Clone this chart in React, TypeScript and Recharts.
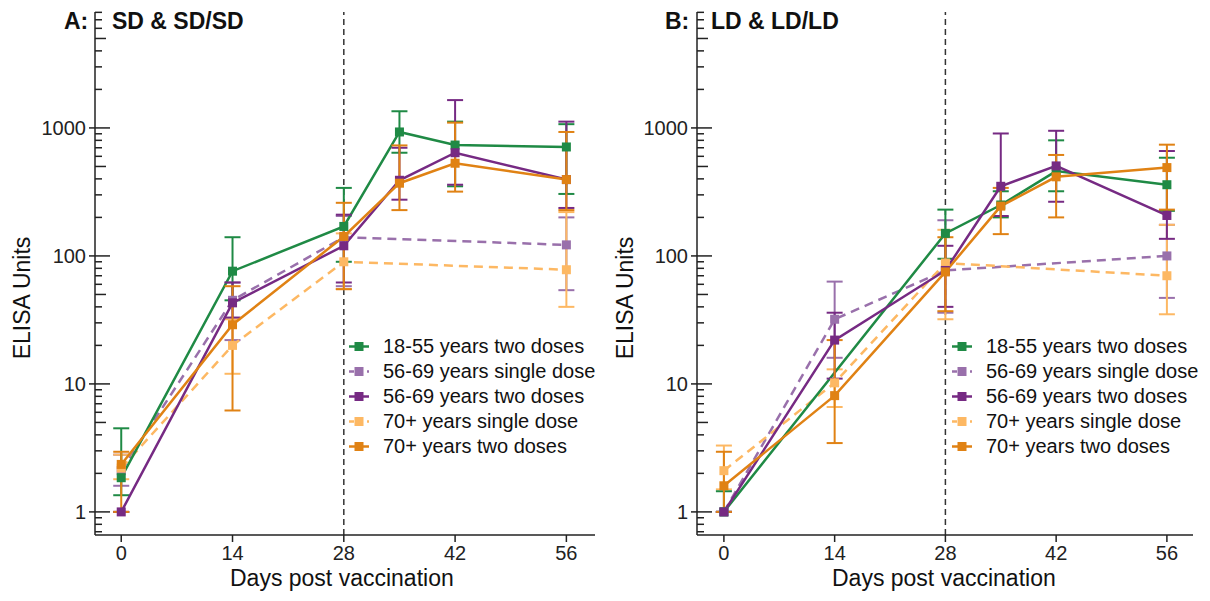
import React from 'react';
import { LineChart, Line, XAxis, YAxis, ReferenceLine, ErrorBar, Legend } from 'recharts';

const FONT = '"Liberation Sans", Arial, sans-serif';

// days measured
const daysTwo = [0, 14, 28, 35, 42, 56];
const daysSingle = [0, 14, 28, 56];
const daysGreenB = [0, 28, 35, 42, 56];
const xTicks = [0, 14, 28, 42, 56];
const yTicks = [
  0.7, 0.8, 0.9, 1, 2, 3, 4, 5, 6, 7, 8, 9, 10, 20, 30, 40, 50, 60, 70, 80, 90,
  100, 200, 300, 400, 500, 600, 700, 800, 900, 1000, 2000, 3000, 4000, 5000, 6000, 7000, 8000,
];

// Panel A: SD & SD/SD
const aGreen = [1.85, 76, 170, 930, 735, 710];
const aGreenLo = [1.35, 45, 90, 640, 350, 305];
const aGreenHi = [4.5, 140, 340, 1350, 1120, 1070];
const aPurpleSingle = [2.1, 45, 140, 122];
const aPurpleSingleLo = [1.6, 22, 58, 54];
const aPurpleSingleHi = [2.8, 62, 205, 200];
const aPurpleTwo = [1.0, 43, 120, 390, 640, 395];
const aPurpleTwoLo = [1.0, 33, 62, 275, 360, 237];
const aPurpleTwoHi = [1.0, 62, 210, 700, 1650, 1120];
const aOrangeSingle = [2.2, 20, 90, 78];
const aOrangeSingleLo = [1.8, 12, 55, 40];
const aOrangeSingleHi = [2.8, 32, 150, 220];
const aOrangeTwo = [2.35, 29, 142, 370, 530, 395];
const aOrangeTwoLo = [1.0, 6.2, 55, 228, 318, 228];
const aOrangeTwoHi = [2.95, 58, 260, 730, 1100, 930];

// Panel B: LD & LD/LD
const bGreen = [1.0, 150, 250, 460, 360];
const bGreenLo = [1.0, 95, 200, 320, 225];
const bGreenHi = [1.45, 230, 320, 800, 585];
const bPurpleSingle = [1.0, 32, 77, 100];
const bPurpleSingleLo = [1.0, 16, 36, 47];
const bPurpleSingleHi = [1.0, 63, 190, 175];
const bPurpleTwo = [1.0, 22, 77, 350, 505, 207];
const bPurpleTwoLo = [1.0, 11, 40, 205, 265, 136];
const bPurpleTwoHi = [1.0, 36, 120, 905, 950, 660];
const bOrangeSingle = [2.1, 10.2, 88, 70];
const bOrangeSingleLo = [1.5, 6.6, 32, 35];
const bOrangeSingleHi = [3.3, 13, 160, 175];
const bOrangeTwo = [1.6, 8.1, 75, 245, 415, 490];
const bOrangeTwoLo = [1.0, 3.45, 37, 148, 200, 230];
const bOrangeTwoHi = [2.95, 22, 140, 340, 615, 740];

const seriesNames = [
  '18-55 years two doses',
  '56-69 years single dose',
  '56-69 years two doses',
  '70+ years single dose',
  '70+ years two doses',
];
const seriesColors = ['#1f8a45', '#9970ab', '#762a83', '#fdb863', '#e08214'];
const seriesDashed = [false, true, false, true, false];

const rows = (days: number[], v: number[], lo: number[], hi: number[]) =>
  days.map((d, i) => ({ day: d, v: v[i], err: [v[i] - lo[i], hi[i] - v[i]] }));

const panelA = [
  rows(daysTwo, aGreen, aGreenLo, aGreenHi),
  rows(daysSingle, aPurpleSingle, aPurpleSingleLo, aPurpleSingleHi),
  rows(daysTwo, aPurpleTwo, aPurpleTwoLo, aPurpleTwoHi),
  rows(daysSingle, aOrangeSingle, aOrangeSingleLo, aOrangeSingleHi),
  rows(daysTwo, aOrangeTwo, aOrangeTwoLo, aOrangeTwoHi),
];
const panelB = [
  rows(daysGreenB, bGreen, bGreenLo, bGreenHi),
  rows(daysSingle, bPurpleSingle, bPurpleSingleLo, bPurpleSingleHi),
  rows(daysTwo, bPurpleTwo, bPurpleTwoLo, bPurpleTwoHi),
  rows(daysSingle, bOrangeSingle, bOrangeSingleLo, bOrangeSingleHi),
  rows(daysTwo, bOrangeTwo, bOrangeTwoLo, bOrangeTwoHi),
];

// draw order: single-dose first, two-dose on top
const drawOrder = [1, 3, 0, 2, 4];

const YTick = (props: any) => {
  const { x, y, payload } = props;
  const v = payload.value;
  const lg = Math.log10(v);
  const major = Math.abs(lg - Math.round(lg)) < 1e-6;
  const lead = Math.round(v / Math.pow(10, Math.floor(lg + 1e-9)));
  if (major) {
    return (
      <g>
        <line x1={x - 6} x2={x + 15} y1={y} y2={y} stroke="#222" strokeWidth={1.5} />
        <text x={x - 9} y={y} dy="0.36em" textAnchor="end" fontSize={20} fill="#222" fontFamily={FONT}>
          {v}
        </text>
      </g>
    );
  }
  return <line x1={x} x2={x + (lead === 5 ? 11 : 7)} y1={y} y2={y} stroke="#222" strokeWidth={1.5} />;
};

const Square = (color: string) => (p: any) => {
  if (p.cx == null || p.cy == null) return <g key={p.index} />;
  return <rect key={p.index} x={p.cx - 4.5} y={p.cy - 4.5} width={9} height={9} fill={color} />;
};

const LegendBox = () => (
  <div style={{ fontFamily: FONT, fontSize: 20, color: '#111' }}>
    {seriesNames.map((n, i) => (
      <div key={n} style={{ display: 'flex', alignItems: 'center', height: 25 }}>
        <svg width={36} height={25}>
          <line x1={4} x2={24} y1={12.5} y2={12.5} stroke={seriesColors[i]} strokeWidth={2.5}
            strokeDasharray={seriesDashed[i] ? '5 4' : undefined} />
          <rect x={9.5} y={8} width={9} height={9} fill={seriesColors[i]} />
        </svg>
        <span style={{ marginLeft: 2, whiteSpace: 'nowrap' }}>{n}</span>
      </div>
    ))}
  </div>
);

interface PanelProps {
  data: { day: number; v: number; err: number[] }[][];
  axisX: number;
  rightGap: number;
  xDomain: [number, number];
  legendLeft: number;
}

const Panel = ({ data, axisX, rightGap, xDomain, legendLeft }: PanelProps) => (
  <LineChart width={605} height={601} margin={{ top: 12, right: rightGap, bottom: 36, left: 0 }}>
    <XAxis
      type="number"
      dataKey="day"
      domain={xDomain}
      allowDataOverflow
      ticks={xTicks}
      tickSize={7}
      tickMargin={4}
      height={30}
      tick={{ fontSize: 20, fill: '#222', fontFamily: FONT }}
      tickLine={{ stroke: '#222', strokeWidth: 1.5 }}
      axisLine={{ stroke: '#222', strokeWidth: 1.5 }}
    />
    <YAxis
      type="number"
      scale="log"
      domain={[0.66, 8050]}
      allowDataOverflow
      ticks={yTicks}
      interval={0}
      width={axisX}
      tickSize={0}
      tickMargin={0}
      tickLine={false}
      tick={<YTick />}
      axisLine={{ stroke: '#222', strokeWidth: 1.5 }}
    />
    <ReferenceLine x={28} stroke="#333" strokeWidth={1.5} strokeDasharray="6 4" />
    {drawOrder.map((i) => (
      <Line
        key={seriesNames[i]}
        data={data[i]}
        dataKey="v"
        name={seriesNames[i]}
        stroke={seriesColors[i]}
        strokeWidth={2.5}
        strokeDasharray={seriesDashed[i] ? '9 6' : undefined}
        dot={Square(seriesColors[i])}
        activeDot={false}
        isAnimationActive={false}
      >
        <ErrorBar dataKey="err" width={8} strokeWidth={2} stroke={seriesColors[i]} direction="y" isAnimationActive={false} />
      </Line>
    ))}
    <Legend
      layout="vertical"
      align="center"
      verticalAlign="middle"
      content={<LegendBox />}
      wrapperStyle={{ left: legendLeft, top: 334, width: 270 }}
    />
  </LineChart>
);

const text = (style: React.CSSProperties, s: string, bold = false) => (
  <div style={{ position: 'absolute', fontFamily: FONT, color: '#111', whiteSpace: 'nowrap', fontWeight: bold ? 700 : 400, ...style }}>
    {s}
  </div>
);

export default function App() {
  return (
    <div style={{ position: 'absolute', left: 0, top: 0, width: 1210, height: 601, background: '#fff', overflow: 'hidden' }}>
      <div style={{ position: 'absolute', left: 0, top: 0 }}>
        <Panel data={panelA} axisX={95} rightGap={10} xDomain={[-3.3, 59.6]} legendLeft={345} />
      </div>
      <div style={{ position: 'absolute', left: 605, top: 0 }}>
        <Panel data={panelB} axisX={92} rightGap={17} xDomain={[-3.4, 59.3]} legendLeft={343} />
      </div>
      {text({ left: 64, top: 8, fontSize: 23 }, 'A:', true)}
      {text({ left: 112, top: 8, fontSize: 23 }, 'SD & SD/SD', true)}
      {text({ left: 665, top: 8, fontSize: 23 }, 'B:', true)}
      {text({ left: 711, top: 8, fontSize: 23 }, 'LD & LD/LD', true)}
      {text({ left: 230, top: 565, fontSize: 23 }, 'Days post vaccination')}
      {text({ left: 832, top: 565, fontSize: 23 }, 'Days post vaccination')}
      {text({ left: 22, top: 298, fontSize: 23, transform: 'translate(-50%,-50%) rotate(-90deg)' }, 'ELISA Units')}
      {text({ left: 625, top: 298, fontSize: 23, transform: 'translate(-50%,-50%) rotate(-90deg)' }, 'ELISA Units')}
    </div>
  );
}
